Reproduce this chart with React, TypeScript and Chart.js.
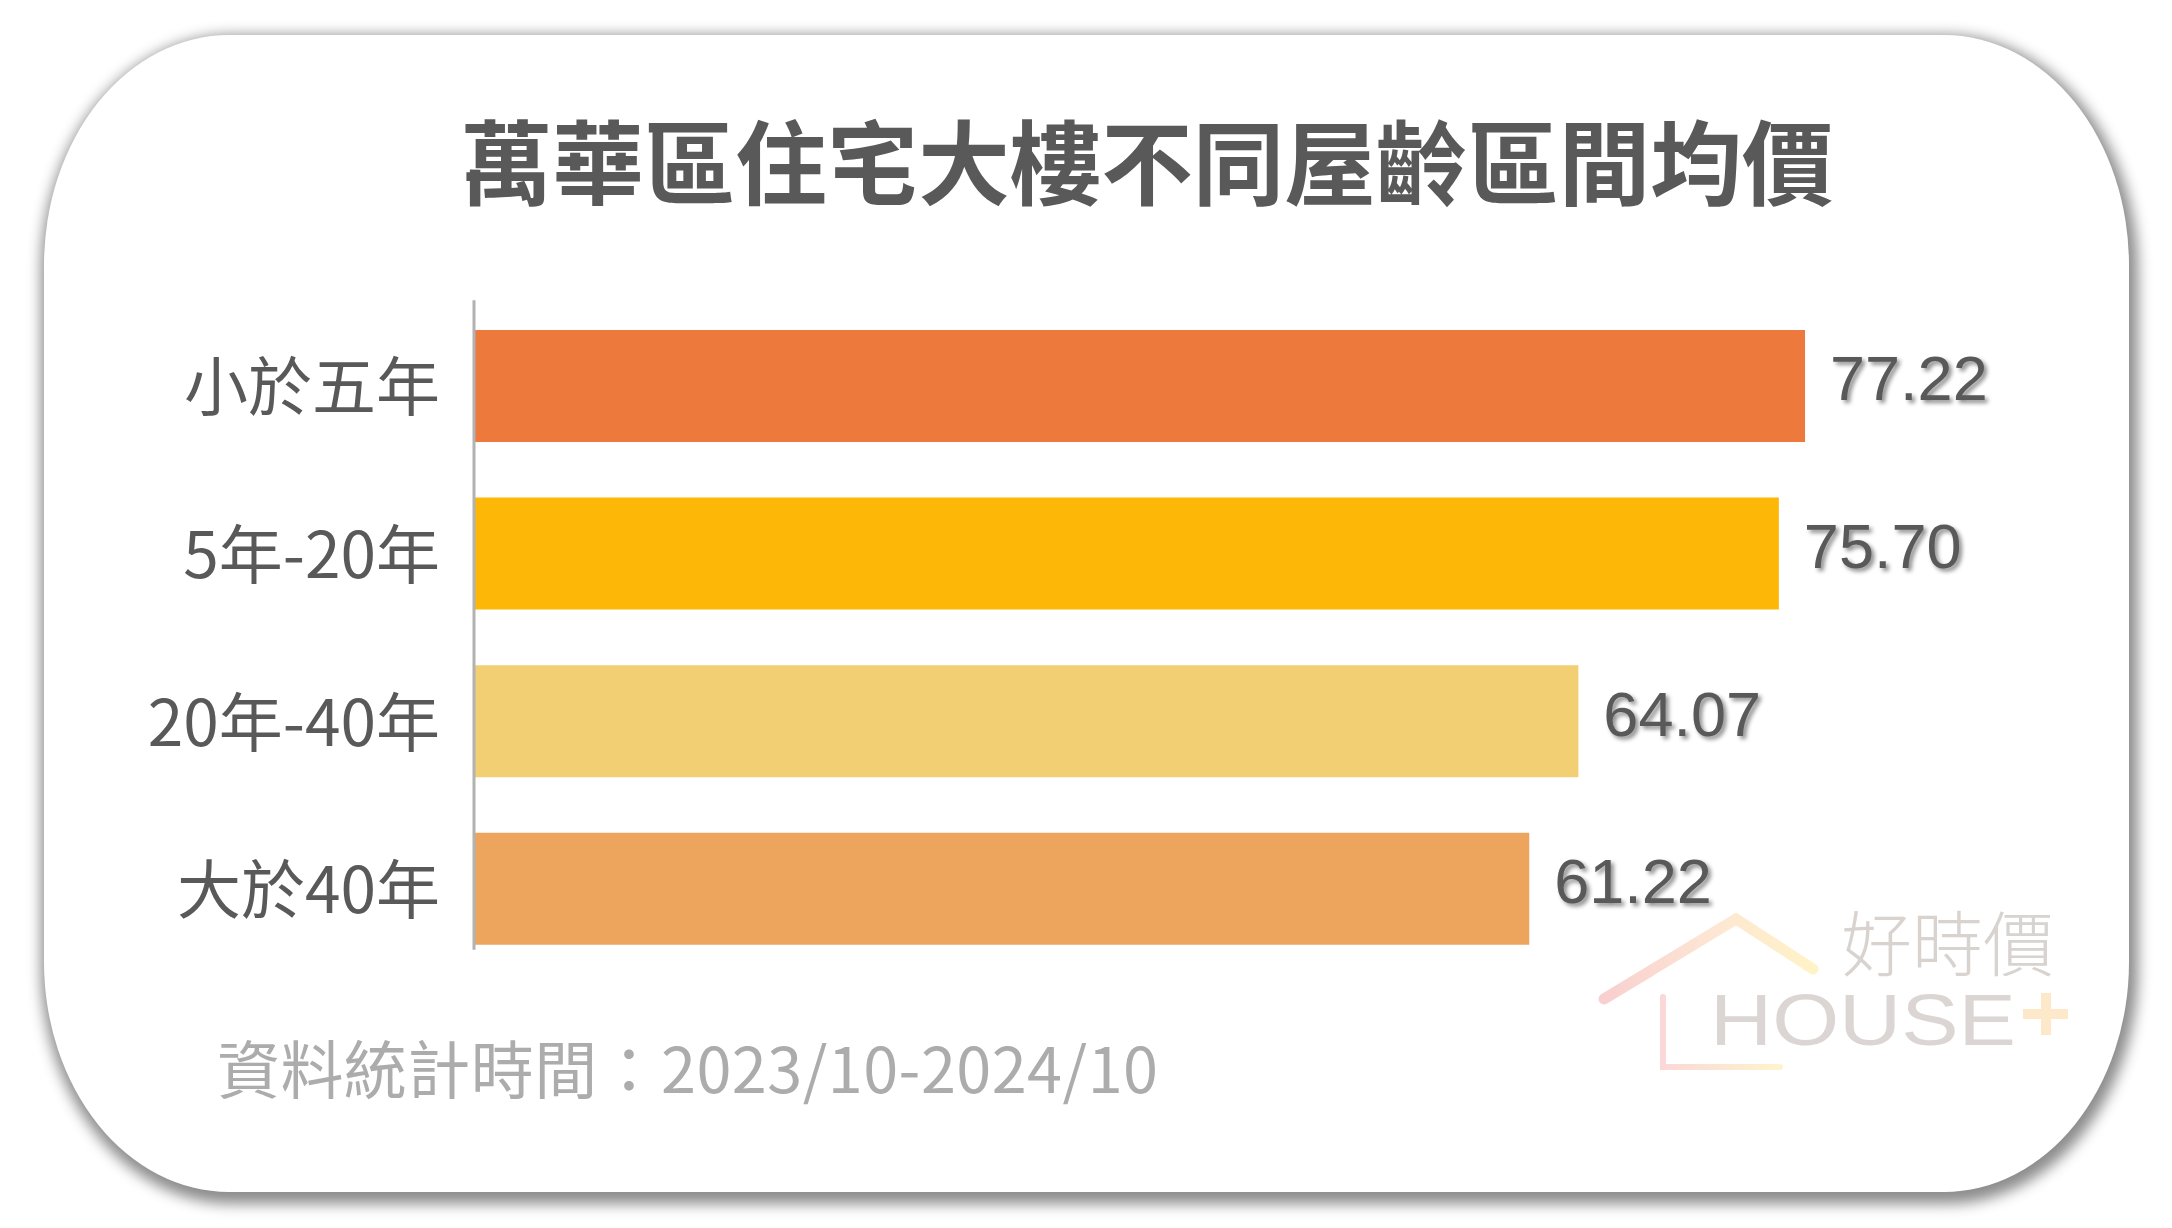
import React, { useEffect, useRef } from "react";
import { Chart, registerables } from "chart.js";

Chart.register(...registerables);

const chartTitle = "萬華區住宅大樓不同屋齡區間均價";
const categories = ["小於五年", "5年-20年", "20年-40年", "大於40年"];
const values = [77.22, 75.7, 64.07, 61.22];
const barColors = ["#EE793D", "#FDB706", "#F2CF72", "#EDA45C"];
const footnote = "資料統計時間：2023/10-2024/10";
const brandName = "好時價";
const brandWord = "HOUSE";
const xMin = 0;
const xMax = 100;

const CJK = "'Noto Sans CJK TC', 'Noto Sans CJK SC', sans-serif";

export default function App() {
  const ref = useRef<HTMLCanvasElement>(null);

  useEffect(() => {
    if (!ref.current) return;

    const axisLine = {
      id: "axisLine",
      afterDatasetsDraw(chart: any) {
        const { ctx, chartArea } = chart;
        const meta = chart.getDatasetMeta(0);
        const last = meta.data[meta.data.length - 1];
        const bottom = last.y + last.height / 2 + 5;
        ctx.save();
        ctx.strokeStyle = "#b2b2b2";
        ctx.lineWidth = 3;
        ctx.beginPath();
        ctx.moveTo(chartArea.left, chartArea.top - 2);
        ctx.lineTo(chartArea.left, bottom);
        ctx.stroke();
        ctx.restore();
      },
    };

    const valueLabels = {
      id: "valueLabels",
      afterDatasetsDraw(chart: any) {
        const ctx = chart.ctx;
        const meta = chart.getDatasetMeta(0);
        ctx.save();
        ctx.font = "63px 'Liberation Sans', Arial, sans-serif";
        ctx.fillStyle = "#595959";
        ctx.textAlign = "left";
        ctx.textBaseline = "middle";
        ctx.shadowColor = "rgba(0,0,0,0.45)";
        ctx.shadowBlur = 4;
        ctx.shadowOffsetX = 3;
        ctx.shadowOffsetY = 3;
        meta.data.forEach((bar: any, i: number) => {
          const v = chart.data.datasets[0].data[i] as number;
          ctx.fillText(v.toFixed(2), bar.x + 25, bar.y - 3);
        });
        ctx.restore();
      },
    };

    const chart = new Chart(ref.current, {
      type: "bar",
      data: {
        labels: categories,
        datasets: [
          {
            data: values,
            backgroundColor: barColors,
            borderWidth: 0,
            barPercentage: 0.668,
            categoryPercentage: 1,
          },
        ],
      },
      options: {
        indexAxis: "y",
        responsive: false,
        animation: false,
        devicePixelRatio: 1,
        layout: { padding: { left: 96.3, right: 12.3, top: 0, bottom: 255.4 } },
        plugins: {
          legend: { display: false },
          tooltip: { enabled: false },
          title: {
            display: true,
            text: chartTitle,
            color: "#595959",
            font: { family: CJK, size: 91.5, weight: "bold", lineHeight: 1.2 },
            padding: { top: 108.1, bottom: 84.3 },
          },
        },
        scales: {
          x: { display: false, min: xMin, max: xMax },
          y: {
            grid: { display: false, drawTicks: false },
            border: { display: false },
            ticks: {
              color: "#595959",
              font: { family: CJK, size: 64 },
              padding: 34,
            },
            afterFit: (s: any) => {
              s.width = 474 - 96.3;
            },
          },
        },
      } as any,
      plugins: [axisLine, valueLabels],
    });

    return () => chart.destroy();
  }, []);

  return (
    <div
      style={{
        position: "fixed",
        left: 0,
        top: 0,
        width: 2172,
        height: 1228,
        background: "#ffffff",
        overflow: "hidden",
      }}
    >
      <div
        style={{
          position: "absolute",
          left: 44,
          top: 35,
          width: 2085,
          height: 1157,
          background: "#ffffff",
          borderRadius: "185px / 230px",
          boxShadow: "3px 6px 14px 6px rgba(0,0,0,0.45)",
        }}
      />
      <canvas
        ref={ref}
        width={2210}
        height={1228}
        style={{ position: "absolute", left: 0, top: 0, display: "block" }}
      />
      <svg
        width={2172}
        height={1228}
        style={{ position: "absolute", left: 0, top: 0, pointerEvents: "none" }}
      >
        <defs>
          <linearGradient id="roofGrad" x1="1601" y1="1000" x2="1817" y2="970" gradientUnits="userSpaceOnUse">
            <stop offset="0" stopColor="#f8cfcf" />
            <stop offset="0.55" stopColor="#fde6d4" />
            <stop offset="1" stopColor="#fff3c6" />
          </linearGradient>
          <linearGradient id="ellGrad" x1="1663" y1="0" x2="1781" y2="0" gradientUnits="userSpaceOnUse">
            <stop offset="0" stopColor="#fad8d8" />
            <stop offset="1" stopColor="#fef4cc" />
          </linearGradient>
        </defs>
        <polyline
          points="1604,999 1736,919 1813,969"
          fill="none"
          stroke="url(#roofGrad)"
          strokeWidth={11}
          strokeLinecap="round"
          strokeLinejoin="miter"
        />
        <polyline
          points="1663,997 1663,1067 1780,1067"
          fill="none"
          stroke="url(#ellGrad)"
          strokeWidth={6}
          strokeLinecap="round"
        />
        <text
          x={1841}
          y={970}
          fontFamily={CJK}
          fontSize={71}
          fontWeight={300}
          fill="#d9d3d0"
        >
          {brandName}
        </text>
        <text
          x={1710}
          y={1045}
          fontFamily="'Liberation Sans', Arial, sans-serif"
          fontSize={72}
          fill="#dbd6d3"
          textLength={306}
          lengthAdjust="spacingAndGlyphs"
        >
          {brandWord}
        </text>
        <rect x={2041} y={993} width={10} height={42} fill="#fde8c9" />
        <rect x={2023} y={1009} width={45} height={10} fill="#fde8c9" />
        <text
          x={217}
          y={1093}
          fontFamily={CJK}
          fontSize={63}
          fill="#acacac"
          textLength={941}
          lengthAdjust="spacing"
        >
          {footnote}
        </text>
      </svg>
    </div>
  );
}
